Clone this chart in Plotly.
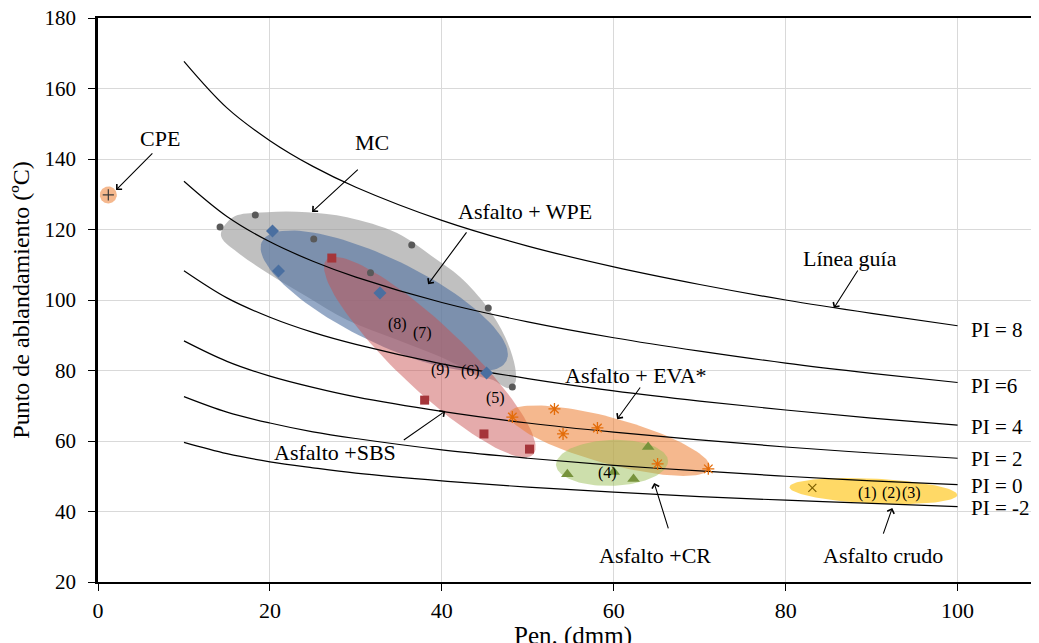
import numpy as np
import plotly.graph_objects as go

FONT = "'Liberation Serif', 'Times New Roman', 'DejaVu Serif', serif"

# ---------------- data ----------------
pen_grid = [10, 15, 20, 25, 30, 40, 50, 60, 70, 80, 90, 100]
pi_curves = {
    "PI = 8":  [167.7, 154.5, 145.2, 137.9, 132.0, 122.6, 115.3, 109.4, 104.4, 100.0, 96.2, 92.7],
    "PI =6":   [133.7, 123.7, 116.5, 111.0, 106.5, 99.3, 93.8, 89.3, 85.5, 82.1, 79.2, 76.6],
    "PI = 4":  [108.3, 100.6, 95.1, 90.8, 87.4, 81.9, 77.7, 74.2, 71.3, 68.8, 66.5, 64.5],
    "PI = 2":  [88.4, 82.6, 78.4, 75.2, 72.5, 68.4, 65.1, 62.5, 60.3, 58.3, 56.6, 55.1],
    "PI = 0":  [72.6, 68.2, 65.1, 62.6, 60.7, 57.5, 55.1, 53.1, 51.5, 50.0, 48.7, 47.6],
    "PI = -2": [59.6, 56.4, 54.1, 52.4, 50.9, 48.7, 46.9, 45.5, 44.2, 43.2, 42.3, 41.4],
}
pi_label_y = [91.5, 75.6, 64.0, 54.9, 47.3, 41.1]

mc_x = [14.2, 18.3, 25.1, 36.5, 31.7, 45.4, 48.2]
mc_y = [120.7, 124.1, 117.3, 115.6, 107.7, 97.7, 75.3]
wpe_x = [20.3, 21.0, 32.8, 45.2]
wpe_y = [119.6, 108.2, 102.0, 79.3]
sbs_x = [27.2, 38.0, 44.9, 50.2]
sbs_y = [111.9, 71.6, 62.0, 57.7]
eva_x = [48.2, 53.1, 54.1, 58.1, 65.1, 71.0]
eva_y = [66.8, 69.1, 62.0, 63.7, 53.5, 52.1]
cr_x = [54.6, 60.0, 62.3, 64.0]
cr_y = [50.6, 51.2, 49.2, 58.3]
crudo_x = [83.1]
crudo_y = [46.7]
cpe_x = [1.2]
cpe_y = [129.8]

num_labels = ["(1)", "(2)", "(3)", "(4)", "(5)", "(6)", "(7)", "(8)", "(9)"]
num_x = [89.5, 92.3, 94.6, 59.3, 46.2, 43.3, 37.7, 34.8, 39.9]
num_y = [45.2, 45.2, 45.2, 50.9, 72.2, 79.9, 90.6, 93.2, 80.1]

# region outline for MC (data coords)
mc_region_x = [14.31, 15.71, 19.67, 24.32, 28.97, 34.79, 38.98, 42.12, 45.26, 47.36, 48.52,
               48.52, 47.71, 45.96, 44.45, 40.61, 34.79, 28.97, 24.32, 19.67, 16.17, 14.55]
mc_region_y = [119.0, 123.5, 124.9, 124.9, 123.5, 119.0, 112.2, 106.5, 98.0, 89.5, 81.0,
               76.5, 75.0, 77.3, 78.2, 83.0, 88.7, 94.3, 100.9, 107.7, 113.6, 117.0]

# ---------------- layout constants ----------------
W, H = 1039, 643
ML, MR, MT, MB = 90, 0, 10, 69
XR = [0, 110.4]
YR = [20, 180]
PXX = (W - ML - MR) / (XR[1] - XR[0])
PXY = (H - MT - MB) / (YR[1] - YR[0])


def ellipse(cx, cy, a_px, b_px, ang_deg, n=120):
    t = np.linspace(0, 2 * np.pi, n)
    ang = np.deg2rad(ang_deg)
    u = a_px * np.cos(t)
    v = b_px * np.sin(t)
    dx = u * np.cos(ang) - v * np.sin(ang)
    dy = u * np.sin(ang) + v * np.cos(ang)
    return cx + dx / PXX, cy + dy / PXY


fig = go.Figure()

# grey MC region
fig.add_trace(go.Scatter(x=mc_region_x + [mc_region_x[0]], y=mc_region_y + [mc_region_y[0]],
                         mode="lines", line=dict(width=0, shape="spline", smoothing=1.0),
                         fill="toself", fillcolor="rgba(150,150,150,0.6)",
                         hoverinfo="skip", showlegend=False))

regions = [
    # cx, cy, a, b, angle, color
    (33.3, 99.7, 136, 42, -26, "rgba(79,112,160,0.6)"),
    (38.6, 83.8, 142, 33, -43.3, "rgba(200,80,80,0.48)"),
    (59.5, 60.1, 104, 23, -15.3, "rgba(237,125,49,0.55)"),
    (59.8, 53.8, 56, 23, 2, "rgba(155,192,90,0.5)"),
    (90.2, 45.8, 84, 12.5, -2.7, "rgba(255,204,51,0.75)"),
    (1.2, 129.8, 8.5, 8.5, 0, "rgba(237,125,49,0.55)"),
]
for cx, cy, a, b, ang, col in regions:
    ex, ey = ellipse(cx, cy, a, b, ang)
    fig.add_trace(go.Scatter(x=ex, y=ey, mode="lines", line=dict(width=0),
                             fill="toself", fillcolor=col, hoverinfo="skip", showlegend=False))

# PI curves
for name, ys in pi_curves.items():
    fig.add_trace(go.Scatter(x=pen_grid, y=ys, mode="lines",
                             line=dict(color="black", width=1.2, shape="spline"),
                             showlegend=False, name=name))

# markers
fig.add_trace(go.Scatter(x=mc_x, y=mc_y, mode="markers",
                         marker=dict(symbol="circle", size=7, color="#595959"), showlegend=False))
fig.add_trace(go.Scatter(x=wpe_x, y=wpe_y, mode="markers",
                         marker=dict(symbol="diamond", size=10, color="#4A6FA0"), showlegend=False))
fig.add_trace(go.Scatter(x=sbs_x, y=sbs_y, mode="markers",
                         marker=dict(symbol="square", size=9, color="#A5353A"), showlegend=False))
fig.add_trace(go.Scatter(x=eva_x, y=eva_y, mode="markers",
                         marker=dict(symbol="asterisk-open", size=10, color="#E36C09",
                                     line=dict(color="#E36C09", width=1.3)), showlegend=False))
fig.add_trace(go.Scatter(x=cr_x, y=cr_y, mode="markers",
                         marker=dict(symbol="triangle-up", size=11, color="#77933C"), showlegend=False))
fig.add_trace(go.Scatter(x=crudo_x, y=crudo_y, mode="markers",
                         marker=dict(symbol="x-thin-open", size=8, color="#7F6000",
                                     line=dict(color="#7F6000", width=1.2)), showlegend=False))
fig.add_trace(go.Scatter(x=cpe_x, y=cpe_y, mode="markers",
                         marker=dict(symbol="cross-thin-open", size=8, color="#3a3a3a",
                                     line=dict(color="#3a3a3a", width=1.2)), showlegend=False))

annotations = []
# text labels
labels = [
    ("CPE", 7.2, 145.7), ("MC", 31.9, 144.8), ("Asfalto + WPE", 49.7, 125.2),
    ("Línea guía", 87.5, 111.9), ("Asfalto + EVA*", 62.6, 78.7), ("Asfalto +SBS", 27.6, 56.6),
    ("Asfalto +CR", 64.8, 27.4), ("Asfalto crudo", 91.3, 27.4),
]
for t, x, y in labels:
    annotations.append(dict(x=x, y=y, xref="x", yref="y", text=t, showarrow=False,
                            font=dict(family=FONT, size=22, color="black")))
for name, y in zip(pi_curves.keys(), pi_label_y):
    annotations.append(dict(x=101.3, y=y, xref="x", yref="y", text=name, showarrow=False,
                            xanchor="left", font=dict(family=FONT, size=21, color="black")))
for t, x, y in zip(num_labels, num_x, num_y):
    annotations.append(dict(x=x, y=y, xref="x", yref="y", text=t, showarrow=False,
                            font=dict(family=FONT, size=16, color="black")))

# arrows: (head x, head y, tail x, tail y)
arrows = [
    (2.1, 131.2, 6.5, 142.0),
    (24.9, 125.0, 30.4, 137.4),
    (38.4, 104.5, 43.0, 119.6),
    (85.6, 97.7, 88.5, 108.8),
    (60.4, 66.2, 63.2, 75.6),
    (40.4, 68.5, 35.4, 60.0),
    (64.7, 48.1, 66.4, 34.8),
    (92.4, 41.0, 91.3, 33.3),
]
for hx, hy, tx, ty in arrows:
    annotations.append(dict(x=hx, y=hy, xref="x", yref="y", ax=tx, ay=ty, axref="x", ayref="y",
                            text="", showarrow=True, arrowhead=4, arrowsize=1.3,
                            arrowwidth=1.1, arrowcolor="black", standoff=0))

# x axis title
annotations.append(dict(x=0.5, y=-0.068, xref="paper", yref="paper", yanchor="top",
                        text="Pen. (dmm)", showarrow=False,
                        font=dict(family=FONT, size=25, color="black")))

fig.update_layout(
    width=W, height=H,
    margin=dict(l=ML, r=MR, t=MT, b=MB, autoexpand=False),
    paper_bgcolor="white", plot_bgcolor="white",
    font=dict(family=FONT, color="black"),
    annotations=annotations,
    showlegend=False,
)
fig.update_xaxes(range=XR, tickvals=[0, 20, 40, 60, 80, 100], showgrid=True,
                 gridcolor="#d9d9d9", gridwidth=1, zeroline=False, automargin=False,
                 showline=True, linecolor="black", linewidth=2, mirror=True,
                 ticks="outside", ticklen=7, tickcolor="black", tickwidth=1,
                 ticklabeloverflow="allow",
                 tickfont=dict(family=FONT, size=22, color="black"), ticklabelstandoff=1)
fig.update_yaxes(range=YR, tickvals=[20, 40, 60, 80, 100, 120, 140, 160, 180], showgrid=True,
                 gridcolor="#d9d9d9", gridwidth=1, zeroline=False, automargin=False,
                 showline=True, linecolor="black", linewidth=2.5,
                 ticks="outside", ticklen=7, tickcolor="black", tickwidth=1,
                 ticklabeloverflow="allow",
                 tickfont=dict(family=FONT, size=21, color="black"), ticklabelstandoff=8,
                 title=dict(text="Punto de ablandamiento (ºC)", standoff=10,
                            font=dict(family=FONT, size=24, color="black")))

fig.write_html("out.html")
